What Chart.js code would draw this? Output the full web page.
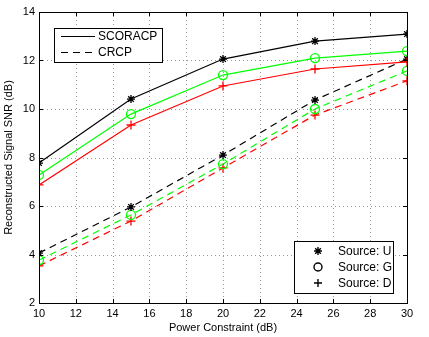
<!DOCTYPE html>
<html>
<head>
<meta charset="utf-8">
<script src="https://cdn.jsdelivr.net/npm/chart.js@4"></script>
<style>
  html, body { margin: 0; padding: 0; background: #fff; }
  #wrap { width: 429px; height: 337px; position: relative; }
</style>
</head>
<body>
<div id="wrap"><canvas id="chart" width="429" height="337"></canvas></div>
<script>
const powerLevels = [10, 15, 20, 25, 30];
const scoracpU = [7.77, 10.41, 12.06, 12.80, 13.09];
const scoracpG = [7.28, 9.79, 11.40, 12.10, 12.39];
const scoracpD = [6.87, 9.34, 10.95, 11.65, 11.94];
const crcpU = [4.06, 5.96, 8.10, 10.37, 12.06];
const crcpG = [3.77, 5.63, 7.73, 10.00, 11.57];
const crcpD = [3.53, 5.38, 7.57, 9.75, 11.16];

const FONT = '"Liberation Sans", Arial, sans-serif';
const DASH = [7, 5];

function makeSet(values, color, style, dashed) {
    return {
        data: values.map((v, i) => ({x: powerLevels[i], y: v})),
        borderColor: color,
        backgroundColor: 'rgba(0,0,0,0)',
        pointBorderColor: color,
        pointBackgroundColor: 'rgba(0,0,0,0)',
        pointStyle: style,
        pointRadius: style === 'star' ? 4 : 4.5,
        pointBorderWidth: 1.3,
        borderWidth: 1.2,
        borderDash: dashed ? DASH : [],
        tension: 0,
        fill: false
    };
}

const datasets = [
    makeSet(scoracpU, '#000000', 'star', false),
    makeSet(scoracpG, '#00ff00', 'circle', false),
    makeSet(scoracpD, '#ff0000', 'cross', false),
    makeSet(crcpU, '#000000', 'star', true),
    makeSet(crcpG, '#00ff00', 'circle', true),
    makeSet(crcpD, '#ff0000', 'cross', true)
];

// dotted grid, drawn from the scales' own tick positions
const dottedGrid = {
    id: 'dottedGrid',
    beforeDatasetsDraw(chart) {
        const c = chart.ctx;
        const a = chart.chartArea;
        c.save();
        c.strokeStyle = '#999';
        c.lineWidth = 1;
        c.setLineDash([1, 3]);
        chart.scales.x.ticks.forEach(t => {
            const px = Math.round(chart.scales.x.getPixelForValue(t.value)) + 0.5;
            c.beginPath(); c.moveTo(px, a.top); c.lineTo(px, a.bottom); c.stroke();
        });
        chart.scales.y.ticks.forEach(t => {
            const py = Math.round(chart.scales.y.getPixelForValue(t.value)) + 0.5;
            c.beginPath(); c.moveTo(a.left, py); c.lineTo(a.right, py); c.stroke();
        });
        c.restore();
    }
};

const boxAndLegends = {
    id: 'boxAndLegends',
    afterDraw(chart) {
        const c = chart.ctx;
        const a = chart.chartArea;
        c.save();
        c.strokeStyle = '#000';
        c.lineWidth = 1;
        c.setLineDash([]);
        c.strokeRect(Math.round(a.left) + 0.5, Math.round(a.top) + 0.5,
            Math.round(a.right - a.left), Math.round(a.bottom - a.top));

        // small inward tick marks on all four sides
        c.beginPath();
        chart.scales.x.ticks.forEach(t => {
            const px = Math.round(chart.scales.x.getPixelForValue(t.value)) + 0.5;
            c.moveTo(px, a.bottom); c.lineTo(px, a.bottom - 4);
            c.moveTo(px, a.top); c.lineTo(px, a.top + 4);
        });
        chart.scales.y.ticks.forEach(t => {
            const py = Math.round(chart.scales.y.getPixelForValue(t.value)) + 0.5;
            c.moveTo(a.left, py); c.lineTo(a.left + 4, py);
            c.moveTo(a.right, py); c.lineTo(a.right - 4, py);
        });
        c.stroke();

        // line style legend (top left)
        c.fillStyle = '#fff';
        c.fillRect(54.5, 28.5, 108, 34);
        c.strokeRect(54.5, 28.5, 108, 34);
        c.font = '12px ' + FONT;
        c.fillStyle = '#000';
        c.textBaseline = 'middle';
        c.lineWidth = 1.2;
        c.beginPath(); c.moveTo(61, 36.5); c.lineTo(95, 36.5); c.stroke();
        c.setLineDash(DASH);
        c.beginPath(); c.moveTo(61, 52.5); c.lineTo(95, 52.5); c.stroke();
        c.setLineDash([]);
        c.fillText('SCORACP', 98, 37);
        c.fillText('CRCP', 98, 53);

        // marker legend (bottom right)
        c.fillStyle = '#fff';
        c.lineWidth = 1;
        c.fillRect(294.5, 241.5, 99, 52);
        c.strokeRect(294.5, 241.5, 99, 52);
        const rows = [['star', 'Source: U', 251], ['circle', 'Source: G', 267], ['cross', 'Source: D', 283]];
        rows.forEach(r => {
            c.strokeStyle = '#000';
            c.fillStyle = 'rgba(0,0,0,0)';
            c.lineWidth = 1.4;
            Chart.helpers.drawPoint(c, {pointStyle: r[0], radius: 4, borderWidth: c.lineWidth}, 318, r[2]);
            c.fillStyle = '#000';
            c.font = '12px ' + FONT;
            c.fillText(r[1], 338, r[2] + 1);
        });
        c.restore();
    }
};

new Chart(document.getElementById('chart'), {
    type: 'line',
    data: { datasets: datasets },
    plugins: [dottedGrid, boxAndLegends],
    options: {
        responsive: false,
        animation: false,
        layout: { padding: { top: 12, right: 22, left: 0, bottom: 0 } },
        plugins: { legend: { display: false }, tooltip: { enabled: false } },
        scales: {
            x: {
                type: 'linear',
                min: 10, max: 30,
                afterFit(s) { s.height = 34; },
                ticks: { stepSize: 2, color: '#000', font: { family: FONT, size: 11 }, padding: 4 },
                grid: { color: 'rgba(0,0,0,0)', drawTicks: false },
                border: { display: false },
                title: { display: true, text: 'Power Constraint (dB)', color: '#000', font: { family: FONT, size: 11 }, padding: { top: 0, bottom: 2 } }
            },
            y: {
                min: 2, max: 14,
                afterFit(s) { s.width = 39; },
                ticks: { stepSize: 2, color: '#000', font: { family: FONT, size: 11 }, padding: 4 },
                grid: { color: 'rgba(0,0,0,0)', drawTicks: false },
                border: { display: false },
                title: { display: true, text: 'Reconstructed Signal SNR (dB)', color: '#000', font: { family: FONT, size: 11 }, padding: { top: 2, bottom: 2 } }
            }
        }
    }
});
</script>
</body>
</html>
